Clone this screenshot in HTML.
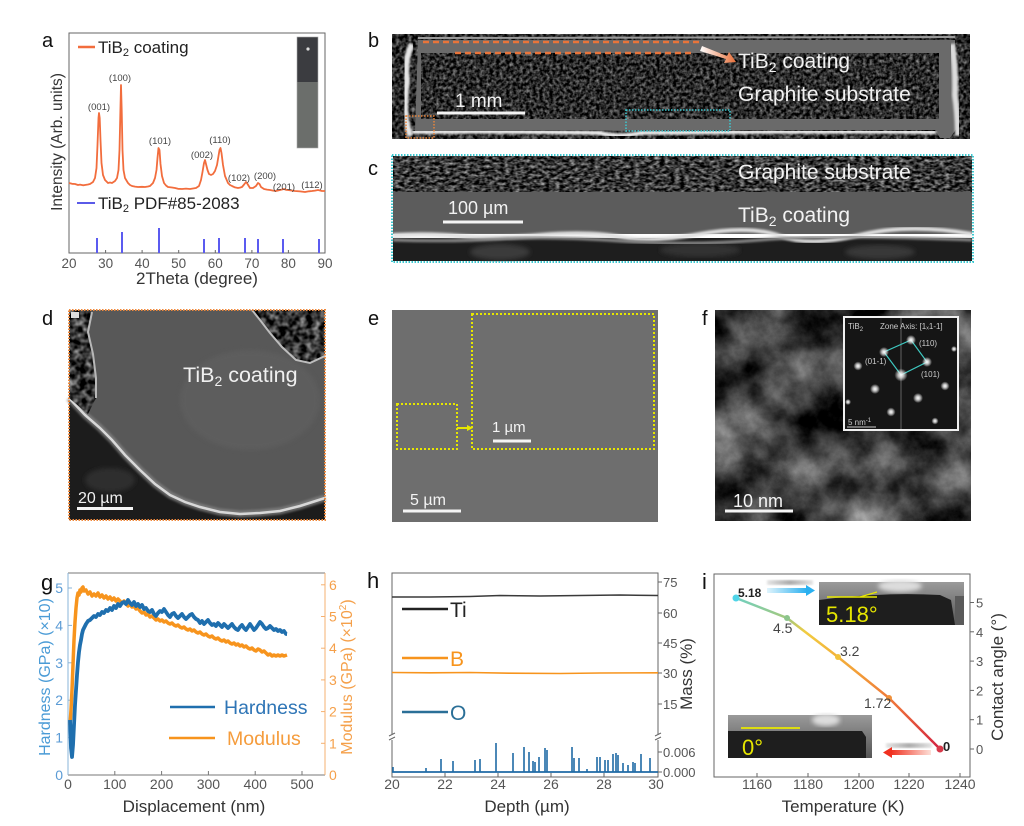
<!DOCTYPE html>
<html><head><meta charset="utf-8"><style>
html,body{margin:0;padding:0;background:#fff;}
svg{display:block;}
text{font-family:"Liberation Sans",Arial,sans-serif;}
</style></head><body>
<svg width="1024" height="826" viewBox="0 0 1024 826" xmlns="http://www.w3.org/2000/svg">
<defs>
<filter id="fG" x="0" y="0" width="1" height="1" color-interpolation-filters="sRGB">
<feTurbulence type="fractalNoise" baseFrequency="0.3" numOctaves="2" seed="4"/>
<feColorMatrix type="matrix" values="1.0 0 0 0 -0.33 1.0 0 0 0 -0.33 1.0 0 0 0 -0.33 0 0 0 0 1"/>
<feComposite in2="SourceGraphic" operator="in"/>
</filter>
<filter id="fC" x="0" y="0" width="1" height="1" color-interpolation-filters="sRGB">
<feTurbulence type="fractalNoise" baseFrequency="0.2 0.35" numOctaves="2" seed="11"/>
<feColorMatrix type="matrix" values="1.2 0 0 0 -0.38 1.2 0 0 0 -0.38 1.2 0 0 0 -0.38 0 0 0 0 1"/>
<feComposite in2="SourceGraphic" operator="in"/>
</filter>
<filter id="fG2" x="0" y="0" width="1" height="1" color-interpolation-filters="sRGB">
<feTurbulence type="fractalNoise" baseFrequency="0.25" numOctaves="2" seed="9"/>
<feColorMatrix type="matrix" values="1.0 0 0 0 -0.34 1.0 0 0 0 -0.34 1.0 0 0 0 -0.34 0 0 0 0 1"/>
<feComposite in2="SourceGraphic" operator="in"/>
</filter>
<filter id="fD" x="0" y="0" width="1" height="1" color-interpolation-filters="sRGB">
<feTurbulence type="fractalNoise" baseFrequency="0.15" numOctaves="2" seed="2"/>
<feColorMatrix type="matrix" values="1.2 0 0 0 -0.4 1.2 0 0 0 -0.4 1.2 0 0 0 -0.4 0 0 0 0 1"/>
<feComposite in2="SourceGraphic" operator="in"/>
</filter>
<filter id="fT" x="0" y="0" width="1" height="1" color-interpolation-filters="sRGB">
<feTurbulence type="fractalNoise" baseFrequency="0.02" numOctaves="6" seed="7"/>
<feColorMatrix type="matrix" values="1.0 0 0 0 -0.24 1.0 0 0 0 -0.24 1.0 0 0 0 -0.24 0 0 0 0 1"/>
<feComposite in2="SourceGraphic" operator="in"/>
</filter>
<filter id="blur1"><feGaussianBlur stdDeviation="1"/></filter>
<filter id="blur2"><feGaussianBlur stdDeviation="2.5"/></filter>
<radialGradient id="spot"><stop offset="0" stop-color="#fff"/><stop offset="0.4" stop-color="#eee" stop-opacity="0.8"/><stop offset="1" stop-color="#fff" stop-opacity="0"/></radialGradient>
<linearGradient id="arrB" x1="0" x2="1"><stop offset="0" stop-color="#fff"/><stop offset="1" stop-color="#e8703a"/></linearGradient>
<linearGradient id="blueArr" x1="0" x2="1"><stop offset="0" stop-color="#e0f4fc"/><stop offset="1" stop-color="#2ab0f0"/></linearGradient>
<linearGradient id="redArr" x1="0" x2="1"><stop offset="0" stop-color="#f03020"/><stop offset="1" stop-color="#fde0d8"/></linearGradient>
<linearGradient id="greyBar" x1="0" x2="1"><stop offset="0" stop-color="#e4e4e4"/><stop offset="0.5" stop-color="#aaa"/><stop offset="1" stop-color="#e4e4e4"/></linearGradient>
<linearGradient id="lineI" gradientUnits="userSpaceOnUse" x1="736" y1="598" x2="940" y2="749">
<stop offset="0" stop-color="#6fd0c0"/><stop offset="0.22" stop-color="#a8c878"/><stop offset="0.3" stop-color="#f2cc40"/><stop offset="0.55" stop-color="#f3a038"/><stop offset="0.78" stop-color="#ec6a3a"/><stop offset="1" stop-color="#d22040"/>
</linearGradient>
<linearGradient id="insTop" x1="0" y1="0" x2="0" y2="1"><stop offset="0" stop-color="#9a9a9a"/><stop offset="1" stop-color="#555"/></linearGradient>
</defs>

<!-- ================= Panel a ================= -->
<text x="42" y="47" font-size="20" fill="#111">a</text>
<rect x="69" y="33" width="256" height="220" fill="none" stroke="#666" stroke-width="1"/>
<rect x="297" y="37" width="21" height="46" fill="#3b3c40"/>
<rect x="297" y="82" width="21" height="66" fill="#6b6e6b"/>
<circle cx="308" cy="49" r="1.6" fill="#ddd"/>
<rect x="297" y="37" width="21" height="111" fill="none" stroke="#aaa" stroke-width="0.6"/>
<line x1="78" y1="47" x2="95" y2="47" stroke="#f26d3d" stroke-width="2.5"/>
<text x="98" y="53" font-size="17" fill="#222">TiB<tspan font-size="11" dy="3">2</tspan><tspan dy="-3"> coating</tspan></text>
<line x1="77" y1="203" x2="95" y2="203" stroke="#5a5ae8" stroke-width="2"/>
<text x="98" y="209" font-size="17" fill="#222">TiB<tspan font-size="11" dy="3">2</tspan><tspan dy="-3">  PDF#85-2083</tspan></text>
<polyline fill="none" stroke="#f26d3d" stroke-width="1.8" stroke-linejoin="round" points="69,183 72,183.8 75,184 78,185 80,184.6 83,185.3 85,185 88,184.5 90,184 93,182 95,178 96.5,168 97.5,145 98.5,118 99,113 99.7,118 100.5,140 101.5,163 103,175 105,180 108,183 110,182.5 112,183 115,181 117,178 118.5,170 119.5,150 120.3,115 121,85 121.7,110 122.5,150 123.5,170 125,178 128,183 130,185 132,186 135,186.6 138,187 142,186.8 145,187 148,186.5 150,186 153,183 155,178 156.5,170 157.5,158 158.5,148 159.5,150 160.5,164 162,176 164,183 166,185.5 168,187 172,187.5 175,188 178,188.8 182,189 186,188.6 190,189 193,188.5 196,188 199,186 201,180 202.5,172 204,163 205,160 206,164 207.5,170 209,174 211,175 213,174 215,171 217,165 218.5,156 219.5,150 220.5,148 221.5,153 223,165 225,176 228,183 230,185 232,186 235,187.4 238,188 240,187.6 242,187 244.5,184 246,182 247.5,184 250,188 253,188 256,186 258,183 259.5,184 261,187 264,189 267,189.6 270,190 273,190.6 276,191 280,190 284,189 286,189.8 288,190 292,190.6 295,191 300,191.4 305,192 309,191.3 312,191 315,190.6 318,190 322,191 325,191"/>
<g font-size="9.5" fill="#444" text-anchor="middle">
<text x="99" y="110">(001)</text><text x="120" y="81">(100)</text><text x="160" y="144">(101)</text>
<text x="202" y="158">(002)</text><text x="220" y="143">(110)</text><text x="239" y="181">(102)</text>
<text x="265" y="179">(200)</text><text x="284" y="190">(201)</text><text x="312" y="188">(112)</text>
</g>
<g stroke="#5b5bf0" stroke-width="2">
<line x1="97" y1="253" x2="97" y2="238"/><line x1="122" y1="253" x2="122" y2="232"/><line x1="159" y1="253" x2="159" y2="228"/>
<line x1="204" y1="253" x2="204" y2="239"/><line x1="219" y1="253" x2="219" y2="238"/><line x1="245" y1="253" x2="245" y2="238"/>
<line x1="258" y1="253" x2="258" y2="239"/><line x1="283" y1="253" x2="283" y2="239"/><line x1="319" y1="253" x2="319" y2="239"/>
</g>
<g stroke="#666" stroke-width="1">
<line x1="105.6" y1="253" x2="105.6" y2="250"/><line x1="142.1" y1="253" x2="142.1" y2="250"/><line x1="178.7" y1="253" x2="178.7" y2="250"/><line x1="215.3" y1="253" x2="215.3" y2="250"/><line x1="251.9" y1="253" x2="251.9" y2="250"/><line x1="288.4" y1="253" x2="288.4" y2="250"/>
</g>
<g font-size="13.5" fill="#555" text-anchor="middle">
<text x="69" y="268">20</text><text x="105.6" y="268">30</text><text x="142.1" y="268">40</text><text x="178.7" y="268">50</text><text x="215.3" y="268">60</text><text x="251.9" y="268">70</text><text x="288.4" y="268">80</text><text x="325" y="268">90</text>
</g>
<text x="197" y="284" font-size="17" fill="#333" text-anchor="middle">2Theta (degree)</text>
<text transform="translate(62,142) rotate(-90)" font-size="15.5" fill="#333" text-anchor="middle">Intensity (Arb. units)</text>

<!-- ================= Panel b ================= -->
<text x="368" y="47" font-size="20" fill="#111">b</text>
<rect x="392" y="34" width="578" height="105" fill="#333" filter="url(#fG2)"/>
<path d="M418,40 L955,40 L957,128 L950,138 L940,138 L935,130 L415,131 Z" fill="#6a6a6a"/>
<rect x="421" y="53" width="518" height="66" fill="#333" filter="url(#fG)"/>
<path d="M412,44 Q404,60 407,80 Q404,100 406,120 L410,136" fill="none" stroke="#e6e6e6" stroke-width="6" filter="url(#blur1)"/>
<path d="M952,44 Q956,70 955,95 Q958,115 958,136" fill="none" stroke="#dcdcdc" stroke-width="6" filter="url(#blur1)"/>
<path d="M412,132 Q520,131 600,133 Q620,138 640,133 Q780,131 936,132" fill="none" stroke="#f0f0f0" stroke-width="4" filter="url(#blur1)"/>
<line x1="418" y1="38" x2="955" y2="37" stroke="#9a9a9a" stroke-width="2"/>
<line x1="423" y1="42" x2="700" y2="42" stroke="#e8743a" stroke-width="2.5" stroke-dasharray="6 4"/>
<line x1="455" y1="53" x2="693" y2="53" stroke="#e8743a" stroke-width="2.5" stroke-dasharray="6 4"/>
<path d="M702,46 L727,56 L729,52 L736,62 L724,63 L726,59 L700,51 Z" fill="url(#arrB)"/>
<text x="738" y="68" font-size="21" fill="#f2f2f2">TiB<tspan font-size="14" dy="4">2</tspan><tspan dy="-4"> coating</tspan></text>
<text x="738" y="101" font-size="21" fill="#f2f2f2">Graphite substrate</text>
<text x="455" y="107" font-size="19" fill="#f2f2f2">1 mm</text>
<rect x="437" y="111.5" width="88" height="3" fill="#f4f4f4"/>
<rect x="406" y="116" width="28" height="22" fill="none" stroke="#e8843a" stroke-width="1.5" stroke-dasharray="1.5 1.5"/>
<rect x="626" y="110" width="104" height="21" fill="none" stroke="#3cc8d0" stroke-width="1.5" stroke-dasharray="1.5 1.5"/>

<!-- ================= Panel c ================= -->
<text x="368" y="175" font-size="20" fill="#111">c</text>
<rect x="393" y="156" width="579" height="37" fill="#333" filter="url(#fC)"/>
<rect x="393" y="192" width="579" height="42" fill="#5c5c5c"/>
<rect x="393" y="238" width="579" height="23" fill="#1e1e1e"/>
<ellipse cx="500" cy="252" rx="30" ry="8" fill="#3a3a3a" filter="url(#blur2)"/>
<ellipse cx="700" cy="250" rx="40" ry="7" fill="#333" filter="url(#blur2)"/>
<ellipse cx="880" cy="252" rx="35" ry="7" fill="#383838" filter="url(#blur2)"/>
<path d="M393,235 Q430,233 460,236 T540,235 T620,237 T700,234 T780,236 T860,235 T972,234" fill="none" stroke="#e0e0e0" stroke-width="4" filter="url(#blur1)"/>
<path d="M393,240 Q450,242 500,239 T620,241 T760,240 T972,240" fill="none" stroke="#8a8a8a" stroke-width="3" filter="url(#blur1)"/>
<rect x="392" y="155" width="581" height="107" fill="none" stroke="#3cc8d0" stroke-width="2" stroke-dasharray="1.5 1.5"/>
<text x="738" y="179" font-size="21" fill="#f2f2f2">Graphite substrate</text>
<text x="738" y="222" font-size="21" fill="#f2f2f2">TiB<tspan font-size="14" dy="4">2</tspan><tspan dy="-4"> coating</tspan></text>
<text x="448" y="214" font-size="18" fill="#f2f2f2">100 µm</text>
<rect x="443" y="220.5" width="80" height="3" fill="#f4f4f4"/>

<!-- ================= Panel d ================= -->
<text x="42" y="325" font-size="20" fill="#111">d</text>
<rect x="69" y="310" width="256" height="210" fill="#585858"/>
<ellipse cx="250" cy="400" rx="70" ry="50" fill="#606060" filter="url(#blur2)" opacity="0.7"/>
<polygon points="69,398 85,415 100,428 112,440 125,455 140,470 155,484 170,495 185,502 200,507 220,512 240,514 260,513 280,511 300,506 325,498 325,520 69,520" fill="#1c1c1c"/>
<ellipse cx="110" cy="480" rx="25" ry="12" fill="#2e2e2e" filter="url(#blur2)"/>
<polyline points="69,398 85,415 100,428 112,440 125,455 140,470 155,484 170,495 185,502 200,507 220,512 240,514 260,513 280,511 300,506 325,498" fill="none" stroke="#888" stroke-width="7" opacity="0.7" filter="url(#blur1)"/>
<polyline points="69,398 85,415 100,428 112,440 125,455 140,470 155,484 170,495 185,502 200,507 220,512 240,514 260,513 280,511 300,506 325,498" fill="none" stroke="#d8d8d8" stroke-width="2.5"/>
<polygon points="69,310 92,310 88,330 93,352 96,376 96,398 88,414 69,398" fill="#444" filter="url(#fD)"/>
<polyline points="92,312 88,332 93,354 96,378 96,398" fill="none" stroke="#b8b8b8" stroke-width="2"/>
<polygon points="250,310 325,310 325,355 310,362 295,360 280,345 268,330 258,318" fill="#333" filter="url(#fD)"/>
<polyline points="252,310 260,320 270,333 282,347 296,360 310,363 325,356" fill="none" stroke="#bdbdbd" stroke-width="2"/>
<rect x="71" y="312" width="8" height="6" fill="#ddd"/>
<rect x="69" y="310" width="256" height="210" fill="none" stroke="#f0883a" stroke-width="2" stroke-dasharray="1.5 1.5"/>
<text x="183" y="382" font-size="21.5" fill="#f0f0f0">TiB<tspan font-size="14" dy="4">2</tspan><tspan dy="-4"> coating</tspan></text>
<text x="78" y="503" font-size="16" fill="#f0f0f0">20 µm</text>
<rect x="77" y="507" width="56" height="3" fill="#f4f4f4"/>

<!-- ================= Panel e ================= -->
<text x="368" y="325" font-size="20" fill="#111">e</text>
<rect x="392" y="310" width="266" height="212" fill="#6e6e6e"/>
<rect x="397" y="404" width="60" height="45" fill="none" stroke="#e6e600" stroke-width="2" stroke-dasharray="2 2"/>
<rect x="472" y="314" width="182" height="135" fill="none" stroke="#e6e600" stroke-width="2" stroke-dasharray="2 2"/>
<line x1="457" y1="428" x2="469" y2="428" stroke="#e6e600" stroke-width="2"/>
<polygon points="467,425 473,428 467,431" fill="#e6e600"/>
<text x="492" y="432" font-size="15" fill="#f4f4f4">1 µm</text>
<rect x="493" y="439.5" width="38" height="3" fill="#f4f4f4"/>
<text x="410" y="505" font-size="16" fill="#f4f4f4">5 µm</text>
<rect x="403" y="509.5" width="58" height="3" fill="#f4f4f4"/>

<!-- ================= Panel f ================= -->
<text x="702" y="325" font-size="20" fill="#111">f</text>
<rect x="715" y="310" width="256" height="211" fill="#555" filter="url(#fT)"/>
<rect x="844" y="317" width="114" height="113" fill="#151515" stroke="#f0f0f0" stroke-width="2"/>
<line x1="901" y1="318" x2="901" y2="429" stroke="#777" stroke-width="0.8"/>
<polygon points="884,352 911,340 927,362 901,375" fill="none" stroke="#3ec8c0" stroke-width="1.2"/>
<g fill="url(#spot)">
<circle cx="911" cy="340" r="5"/><circle cx="884" cy="352" r="5"/><circle cx="927" cy="362" r="5"/><circle cx="858" cy="366" r="4.5"/>
<circle cx="901" cy="375" r="6.5"/><circle cx="875" cy="389" r="5"/><circle cx="945" cy="386" r="4.5"/><circle cx="918" cy="398" r="5"/>
<circle cx="891" cy="412" r="4.5"/><circle cx="935" cy="421" r="3.5"/><circle cx="954" cy="349" r="3"/><circle cx="848" cy="402" r="3"/>
</g>
<g font-size="8" fill="#ccc">
<text x="848" y="329">TiB<tspan font-size="6" dy="2">2</tspan></text>
<text x="880" y="329">Zone Axis: [1ₓ1-1]</text>
<text x="919" y="346">(110)</text>
<text x="865" y="364">(01-1)</text>
<text x="921" y="377">(101)</text>
<text x="848" y="425">5 nm<tspan font-size="6" dy="-3">-1</tspan></text>
</g>
<line x1="847" y1="427" x2="876" y2="427" stroke="#ccc" stroke-width="1"/>
<text x="733" y="507" font-size="18" fill="#f4f4f4">10 nm</text>
<rect x="725" y="509.5" width="68" height="3" fill="#f4f4f4"/>

<!-- ================= Panel g ================= -->
<text x="41" y="590" font-size="22" fill="#111">g</text>
<line x1="68" y1="573" x2="325" y2="573" stroke="#777" stroke-width="1"/>
<line x1="68" y1="775" x2="325" y2="775" stroke="#777" stroke-width="1"/>
<line x1="68" y1="573" x2="68" y2="775" stroke="#8ab4d8" stroke-width="1"/>
<line x1="325" y1="573" x2="325" y2="775" stroke="#f5b070" stroke-width="1"/>
<g stroke="#8ab4d8"><line x1="68" y1="737.6" x2="72" y2="737.6"/><line x1="68" y1="700.2" x2="72" y2="700.2"/><line x1="68" y1="662.8" x2="72" y2="662.8"/><line x1="68" y1="625.4" x2="72" y2="625.4"/><line x1="68" y1="588" x2="72" y2="588"/></g>
<g font-size="14" fill="#5b9bd5" text-anchor="end">
<text x="63" y="780">0</text><text x="63" y="742.6">1</text><text x="63" y="705.2">2</text><text x="63" y="667.8">3</text><text x="63" y="630.4">4</text><text x="63" y="593">5</text>
</g>
<g stroke="#f5b070"><line x1="321" y1="743.3" x2="325" y2="743.3"/><line x1="321" y1="711.6" x2="325" y2="711.6"/><line x1="321" y1="679.9" x2="325" y2="679.9"/><line x1="321" y1="648.2" x2="325" y2="648.2"/><line x1="321" y1="616.5" x2="325" y2="616.5"/><line x1="321" y1="584.8" x2="325" y2="584.8"/></g>
<g font-size="14" fill="#f5a04a">
<text x="329" y="780">0</text><text x="329" y="748.3">1</text><text x="329" y="716.6">2</text><text x="329" y="684.9">3</text><text x="329" y="653.2">4</text><text x="329" y="621.5">5</text><text x="329" y="589.8">6</text>
</g>
<g stroke="#777"><line x1="114.8" y1="775" x2="114.8" y2="771"/><line x1="161.6" y1="775" x2="161.6" y2="771"/><line x1="208.4" y1="775" x2="208.4" y2="771"/><line x1="255.2" y1="775" x2="255.2" y2="771"/><line x1="302" y1="775" x2="302" y2="771"/></g>
<g font-size="14" fill="#555" text-anchor="middle">
<text x="68" y="789">0</text><text x="114.8" y="789">100</text><text x="161.6" y="789">200</text><text x="208.4" y="789">300</text><text x="255.2" y="789">400</text><text x="302" y="789">500</text>
</g>
<text x="194" y="812" font-size="17" fill="#333" text-anchor="middle">Displacement (nm)</text>
<text transform="translate(50,677) rotate(-90)" font-size="16" fill="#4a9bd6" text-anchor="middle">Hardness (GPa) (×10)</text>
<text transform="translate(352,677) rotate(-90)" font-size="16" fill="#f5a04a" text-anchor="middle">Modulus (GPa) (×10<tspan font-size="10" dy="-6">2</tspan><tspan dy="6">)</tspan></text>
<polyline fill="none" stroke="#f7941d" stroke-width="3.5" stroke-linejoin="round" points="70,725 71,710 72,690 73,665 74,640 75,622 76,608 77,598 78,593 79,595 80,590 81,592 82,588 83,587 84,591 86,590 88,594 90,592 92,596 94,594 96,596 98,593 100,597 102,595 104,598 106,596 108,599 110,597 112,600 114,598 116,601 118,599 120,601 122,603 124,601 126,604 128,606 130,604 132,607 134,606 136,609 138,608 140,611 142,613 144,612 146,615 148,614 150,617 152,616 154,618 156,620 158,619 160,621 162,620 164,622 166,621 168,623 170,624 172,623 174,625 176,626 178,625 180,627 182,628 184,627 186,629 188,630 190,629 192,631 194,630 196,632 198,633 200,632 202,634 204,635 206,634 208,636 210,637 212,636 214,638 216,639 218,638 220,640 222,641 224,640 226,642 228,641 230,643 232,644 234,643 236,645 238,644 240,646 242,645 244,647 246,646 248,648 250,649 252,648 254,650 256,651 258,649 260,650 262,652 264,651 266,653 268,655 270,654 272,656 274,655 276,656 278,655 280,656 282,655 284,656 287,655"/>
<polyline fill="none" stroke="#1f6fae" stroke-width="3.8" stroke-linejoin="round" points="70,720 71,748 72,757 73,745 74,725 75,705 76,690 77,675 78,662 79,652 80,645 81,640 82,634 83,630 84,628 86,624 88,621 90,620 92,618 94,616 96,617 98,614 100,615 102,612 104,613 106,610 108,611 110,608 112,610 114,606 116,608 118,604 120,606 122,603 124,602 126,604 128,600 130,603 132,605 134,602 136,606 138,604 140,607 142,605 144,609 146,608 148,611 150,612 152,610 154,614 156,616 158,613 160,611 162,612 164,609 166,612 168,615 170,617 172,614 174,613 176,616 178,618 180,616 182,614 184,617 186,619 188,617 190,615 192,614 194,617 196,619 198,620 200,623 202,621 204,624 206,622 208,620 210,623 212,625 214,624 216,626 218,623 220,625 222,627 224,624 226,626 228,628 230,626 232,624 234,627 236,629 238,630 240,627 242,625 244,628 246,630 248,627 250,624 252,627 254,630 256,628 258,625 260,622 262,624 264,627 266,629 268,628 270,626 272,628 274,630 276,629 278,631 280,630 282,632 284,631 286,634 287,634"/>
<line x1="170" y1="707" x2="215" y2="707" stroke="#1f6fae" stroke-width="2.5"/>
<text x="224" y="714" font-size="19.5" fill="#2e75b6">Hardness</text>
<line x1="169" y1="738" x2="215" y2="738" stroke="#f7941d" stroke-width="2.5"/>
<text x="227" y="745" font-size="19.5" fill="#f59c3c">Modulus</text>

<!-- ================= Panel h ================= -->
<text x="367" y="588" font-size="22" fill="#111">h</text>
<rect x="392" y="573" width="266" height="204" fill="none" stroke="#666" stroke-width="1"/>
<rect x="389" y="734" width="6" height="6" fill="#fff"/>
<rect x="655" y="734" width="6" height="6" fill="#fff"/>
<g stroke="#666" stroke-width="1"><line x1="389" y1="736" x2="395" y2="733"/><line x1="389" y1="740" x2="395" y2="737"/><line x1="655" y1="736" x2="661" y2="733"/><line x1="655" y1="740" x2="661" y2="737"/></g>
<g stroke="#666"><line x1="658" y1="582" x2="662" y2="582"/><line x1="658" y1="613" x2="662" y2="613"/><line x1="658" y1="643" x2="662" y2="643"/><line x1="658" y1="673" x2="662" y2="673"/><line x1="658" y1="704" x2="662" y2="704"/><line x1="658" y1="752" x2="662" y2="752"/><line x1="658" y1="772" x2="662" y2="772"/></g>
<g font-size="13" fill="#555">
<text x="663" y="587">75</text><text x="663" y="618">60</text><text x="663" y="648">45</text><text x="663" y="678">30</text><text x="663" y="709">15</text><text x="663" y="757">0.006</text><text x="663" y="777">0.000</text>
</g>
<g stroke="#666"><line x1="445" y1="777" x2="445" y2="773"/><line x1="498" y1="777" x2="498" y2="773"/><line x1="551" y1="777" x2="551" y2="773"/><line x1="604" y1="777" x2="604" y2="773"/></g>
<g font-size="14" fill="#555" text-anchor="middle">
<text x="392" y="789">20</text><text x="445" y="789">22</text><text x="498" y="789">24</text><text x="551" y="789">26</text><text x="604" y="789">28</text><text x="656" y="789">30</text>
</g>
<text x="527" y="812" font-size="17" fill="#333" text-anchor="middle">Depth (µm)</text>
<polyline fill="none" stroke="#3a3a3a" stroke-width="1.5" points="392,597 430,597 470,596.5 500,595.5 540,596 580,595.5 620,595 658,595.5"/>
<polyline fill="none" stroke="#f7941d" stroke-width="1.6" points="392,672.5 430,672.8 470,672.5 510,673.2 560,673.5 600,673 658,672.8"/>
<g stroke="#1f6aa5" stroke-width="1.6">
<line x1="393" y1="772" x2="393" y2="767"/><line x1="426" y1="772" x2="426" y2="768"/><line x1="441" y1="772" x2="441" y2="759"/><line x1="453" y1="772" x2="453" y2="761"/>
<line x1="475" y1="772" x2="475" y2="760"/><line x1="480" y1="772" x2="480" y2="759"/><line x1="496" y1="772" x2="496" y2="743"/><line x1="513" y1="772" x2="513" y2="753"/>
<line x1="524" y1="772" x2="524" y2="747"/><line x1="529" y1="772" x2="529" y2="752"/><line x1="533" y1="772" x2="533" y2="761"/><line x1="535" y1="772" x2="535" y2="762"/>
<line x1="539" y1="772" x2="539" y2="757"/><line x1="545" y1="772" x2="545" y2="748"/><line x1="547" y1="772" x2="547" y2="750"/><line x1="572" y1="772" x2="572" y2="747"/>
<line x1="574" y1="772" x2="574" y2="758"/><line x1="579" y1="772" x2="579" y2="758"/><line x1="587" y1="772" x2="587" y2="769"/><line x1="597" y1="772" x2="597" y2="757"/>
<line x1="600" y1="772" x2="600" y2="757"/><line x1="605" y1="772" x2="605" y2="760"/><line x1="608" y1="772" x2="608" y2="760"/><line x1="613" y1="772" x2="613" y2="754"/>
<line x1="616" y1="772" x2="616" y2="753"/><line x1="618" y1="772" x2="618" y2="755"/><line x1="623" y1="772" x2="623" y2="763"/><line x1="628" y1="772" x2="628" y2="765"/>
<line x1="633" y1="772" x2="633" y2="762"/><line x1="635" y1="772" x2="635" y2="763"/><line x1="641" y1="772" x2="641" y2="754"/><line x1="650" y1="772" x2="650" y2="758"/>
</g>
<line x1="392" y1="772" x2="658" y2="772" stroke="#1f6aa5" stroke-width="1.8"/>
<line x1="402" y1="609" x2="448" y2="609" stroke="#222" stroke-width="2.5"/>
<text x="450" y="617" font-size="21" fill="#222">Ti</text>
<line x1="402" y1="658" x2="448" y2="658" stroke="#f7941d" stroke-width="2.5"/>
<text x="450" y="666" font-size="21" fill="#f7941d">B</text>
<line x1="402" y1="712" x2="448" y2="712" stroke="#2a6f97" stroke-width="2.5"/>
<text x="450" y="720" font-size="21" fill="#2a6f97">O</text>
<text transform="translate(692,674) rotate(-90)" font-size="17" fill="#333" text-anchor="middle">Mass (%)</text>

<!-- ================= Panel i ================= -->
<text x="702" y="589" font-size="22" fill="#111">i</text>
<rect x="714" y="574" width="256" height="203" fill="none" stroke="#666" stroke-width="1"/>
<g stroke="#666"><line x1="970" y1="749" x2="974" y2="749"/><line x1="970" y1="719.7" x2="974" y2="719.7"/><line x1="970" y1="690.4" x2="974" y2="690.4"/><line x1="970" y1="661.1" x2="974" y2="661.1"/><line x1="970" y1="631.8" x2="974" y2="631.8"/><line x1="970" y1="602.5" x2="974" y2="602.5"/></g>
<g font-size="13" fill="#555">
<text x="976" y="754">0</text><text x="976" y="724.7">1</text><text x="976" y="695.4">2</text><text x="976" y="666.1">3</text><text x="976" y="636.8">4</text><text x="976" y="607.5">5</text>
</g>
<g stroke="#666"><line x1="757" y1="777" x2="757" y2="773"/><line x1="808" y1="777" x2="808" y2="773"/><line x1="859" y1="777" x2="859" y2="773"/><line x1="909" y1="777" x2="909" y2="773"/><line x1="960" y1="777" x2="960" y2="773"/></g>
<g font-size="14" fill="#555" text-anchor="middle">
<text x="757" y="789">1160</text><text x="808" y="789">1180</text><text x="859" y="789">1200</text><text x="909" y="789">1220</text><text x="960" y="789">1240</text>
</g>
<text x="843" y="812" font-size="17" fill="#333" text-anchor="middle">Temperature (K)</text>
<text transform="translate(1003,677) rotate(-90)" font-size="17" fill="#333" text-anchor="middle">Contact angle (°)</text>
<polyline fill="none" stroke="url(#lineI)" stroke-width="2.5" points="736,598 787,618 838,657 889,698 940,749"/>
<circle cx="736" cy="598" r="3.5" fill="#4fd4e8"/>
<circle cx="787" cy="618" r="3" fill="#8cc48c"/>
<circle cx="838" cy="657" r="3" fill="#f2c23a"/>
<circle cx="889" cy="698" r="3" fill="#f0903a"/>
<circle cx="940" cy="749" r="3.5" fill="#d83a4a"/>
<text x="738" y="597" font-size="12" font-weight="bold" fill="#222">5.18</text>
<text x="773" y="633" font-size="14" fill="#444">4.5</text>
<text x="840" y="656" font-size="14" fill="#444">3.2</text>
<text x="864" y="708" font-size="14" fill="#444">1.72</text>
<text x="943" y="751" font-size="13" font-weight="bold" fill="#222">0</text>
<rect x="819" y="582" width="145" height="43" fill="url(#insTop)"/>
<ellipse cx="900" cy="586" rx="22" ry="6" fill="#ddd" filter="url(#blur2)"/>
<path d="M819,600 Q880,592 940,595 L951,600 L955,625 L819,625 Z" fill="#1e1e1e"/>
<path d="M955,596 L964,596 L964,625 L955,625 Z" fill="#5a5a5a"/>
<line x1="827" y1="597" x2="877" y2="597" stroke="#e8e800" stroke-width="1.5"/>
<line x1="860" y1="597" x2="877" y2="592" stroke="#e8e800" stroke-width="1.2"/>
<text x="826" y="622" font-size="22" fill="#e6e600">5.18°</text>
<rect x="728" y="715" width="144" height="43" fill="url(#insTop)"/>
<ellipse cx="826" cy="720" rx="14" ry="6" fill="#ddd" filter="url(#blur2)"/>
<path d="M728,731 L862,731 L866,737 L866,758 L728,758 Z" fill="#1e1e1e"/>
<line x1="741" y1="728" x2="800" y2="728" stroke="#e8e800" stroke-width="1.8"/>
<text x="742" y="755" font-size="22" fill="#e6e600">0°</text>
<rect x="767" y="580" width="46" height="5" fill="url(#greyBar)" filter="url(#blur1)"/>
<rect x="767" y="588" width="40" height="5" fill="url(#blueArr)"/>
<polygon points="806,585 815,590.5 806,596" fill="#2ab0f0"/>
<rect x="886" y="743" width="46" height="5" fill="url(#greyBar)" filter="url(#blur1)"/>
<rect x="891" y="750" width="40" height="5" fill="url(#redArr)"/>
<polygon points="892,747 883,752.5 892,758" fill="#f03020"/>
</svg>
</body></html>
